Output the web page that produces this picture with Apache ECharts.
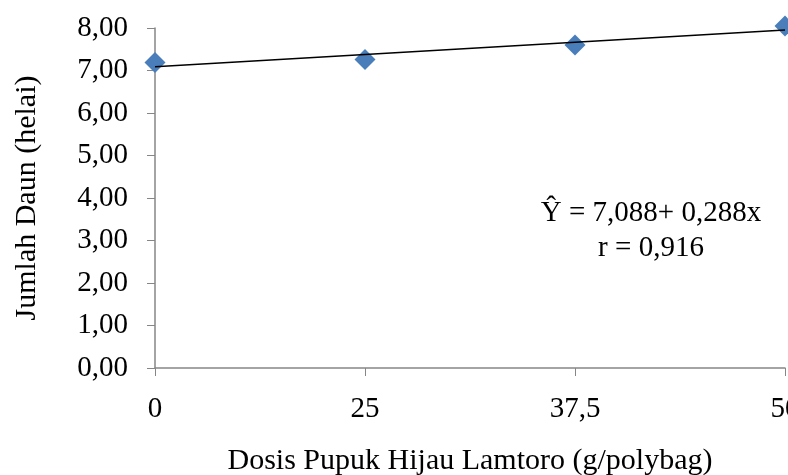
<!DOCTYPE html>
<html><head><meta charset="utf-8">
<script src="https://cdn.jsdelivr.net/npm/echarts@6/dist/echarts.min.js"></script>
<style>html,body{margin:0;padding:0;background:#fff}#c{width:788px;height:475px}</style>
</head><body><div id="c"></div>
<script>
var categories = ['0', '25', '37,5', '50'];
var jumlahDaun = [7.19, 7.26, 7.60, 8.05];
var trendLine = [7.088, 7.376, 7.664, 7.952];
var yTicks = [0, 1, 2, 3, 4, 5, 6, 7, 8];
var equationText = ['Ŷ = 7,088+ 0,288x', 'r = 0,916'];

var font = '"Liberation Serif", "Times New Roman", serif';
var fs = 29;
var chart = echarts.init(document.getElementById('c'));
chart.setOption({
  animation: false,
  backgroundColor: '#fff',
  grid: { left: 155, right: 3, top: 28, bottom: 107, containLabel: false, outerBoundsMode: 'none' },
  xAxis: {
    type: 'category', data: categories, boundaryGap: false,
    name: 'Dosis Pupuk Hijau Lamtoro (g/polybag)', nameLocation: 'middle', nameGap: 78,
    nameTextStyle: { fontFamily: font, fontSize: 30, color: '#000' },
    axisLine: { lineStyle: { color: '#868686', width: 1.5 } },
    axisTick: { show: true, alignWithLabel: true, length: 8, lineStyle: { color: '#868686' } },
    axisLabel: { fontFamily: font, fontSize: fs, color: '#000', margin: 27, showMaxLabel: true },
    splitLine: { show: false }
  },
  yAxis: {
    type: 'value', min: yTicks[0], max: yTicks[yTicks.length - 1], interval: 1,
    name: 'Jumlah Daun (helai)', nameLocation: 'middle', nameGap: 113, nameRotate: 90,
    nameTextStyle: { fontFamily: font, fontSize: 30, color: '#000' },
    axisLine: { show: true, lineStyle: { color: '#868686', width: 1.5 } },
    axisTick: { show: true, length: 8, inside: false, lineStyle: { color: '#868686' } },
    axisLabel: { fontFamily: font, fontSize: fs, color: '#000', margin: 27,
      formatter: function (v) { return v.toFixed(2).replace('.', ','); } },
    splitLine: { show: false }
  },
  series: [
    { type: 'line', data: trendLine, symbol: 'none', lineStyle: { color: '#000', width: 1.5 }, z: 3 },
    { type: 'scatter', data: jumlahDaun, symbol: 'diamond', symbolSize: 21,
      itemStyle: { color: '#4A7EBB', opacity: 1 }, z: 2, clip: false }
  ],
  graphic: [
    { type: 'text', x: 651, y: 213, style: { text: equationText[0], font: fs + 'px ' + font, fill: '#000', align: 'center', verticalAlign: 'middle' } },
    { type: 'text', x: 651, y: 248, style: { text: equationText[1], font: fs + 'px ' + font, fill: '#000', align: 'center', verticalAlign: 'middle' } }
  ]
});
</script></body></html>
